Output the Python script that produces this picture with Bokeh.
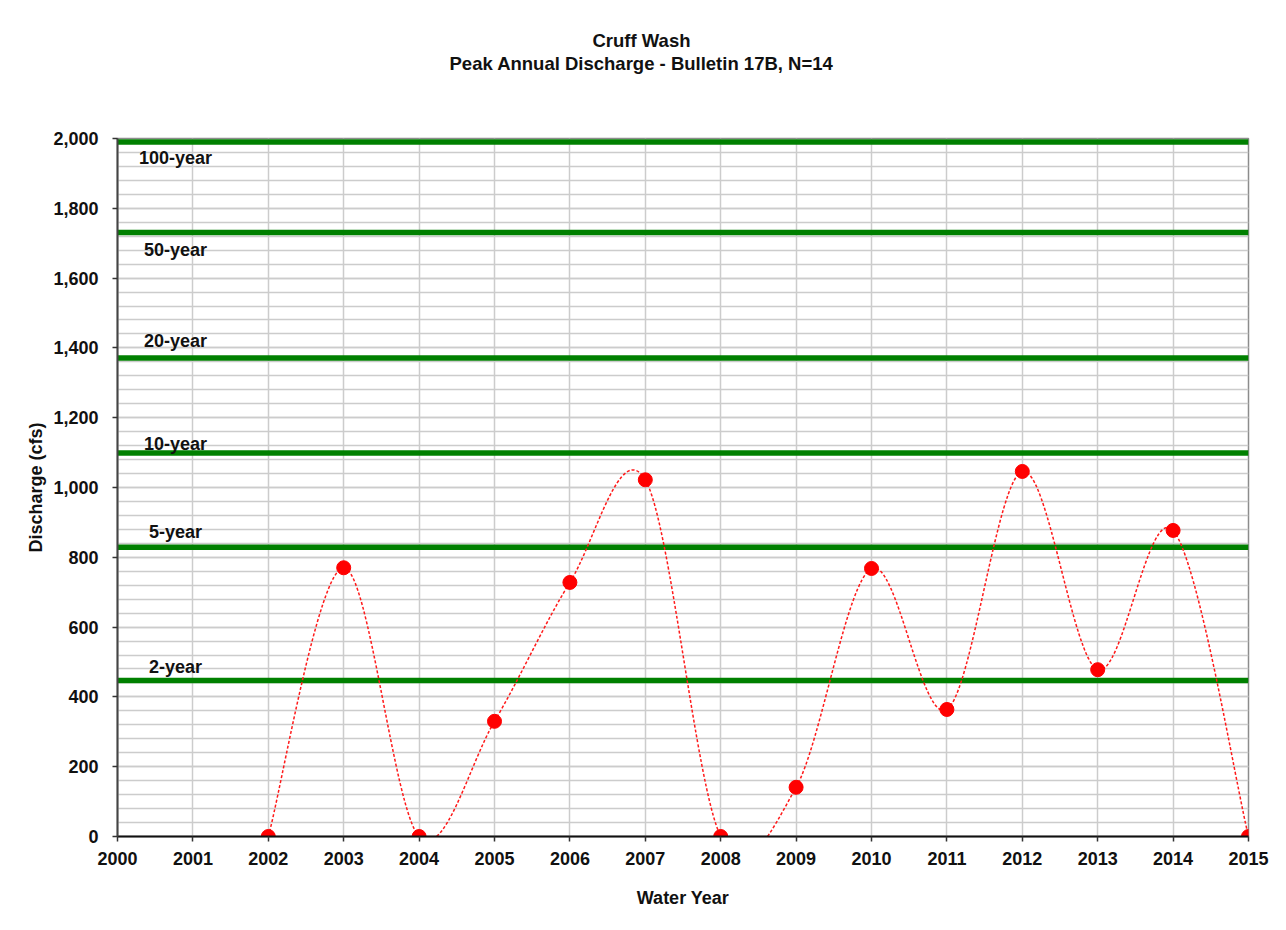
from bokeh.plotting import figure
from bokeh.models import Title, NumeralTickFormatter, SingleIntervalTicker, Range1d, FixedTicker
from bokeh.embed import file_html
from bokeh.resources import INLINE
from bokeh.core.properties import value

# ---- data ----
years = [2002, 2003, 2004, 2005, 2006, 2007, 2008, 2009, 2010, 2011, 2012, 2013, 2014, 2015]
discharge = [0, 770, 0, 330, 728, 1022, 0, 141, 768, 364, 1046, 478, 877, 0]
return_periods = ["100-year", "50-year", "20-year", "10-year", "5-year", "2-year"]
return_flows = [1990, 1731, 1371, 1099, 829, 447]
x_ticks = list(range(2000, 2016))

FONT = "Liberation Sans"

p = figure(width=1270, height=914, output_backend="svg", toolbar_location=None,
           x_range=Range1d(2000, 2015), y_range=Range1d(0, 2000),
           min_border_left=117, min_border_right=22, min_border_top=138, min_border_bottom=78,
           background_fill_color="white", border_fill_color="white")

# titles (spacer first so the two lines sit well above the frame);
# the title block is centred on the whole chart, not on the plot frame
spacer = Title(text=" ", text_font_size="1px", standoff=62, text_color="white")
t2 = Title(text="Peak Annual Discharge - Bulletin 17B, N=14", align="left", offset=332,
           text_font_size="18.5px", text_font_style="bold", text_font=FONT,
           text_color="#111111", standoff=0)
t1 = Title(text="Cruff Wash", align="left", offset=475, text_font_size="18.5px",
           text_font_style="bold", text_font=FONT, text_color="#111111", standoff=0)
p.add_layout(spacer, "above")
p.add_layout(t2, "above")
p.add_layout(t1, "above")

# axes
p.xaxis.ticker = FixedTicker(ticks=x_ticks)
p.yaxis.ticker = SingleIntervalTicker(interval=200, num_minor_ticks=5)
p.yaxis.formatter = NumeralTickFormatter(format="0,0")
for ax in (p.xaxis[0], p.yaxis[0]):
    ax.major_label_text_font = FONT
    ax.major_label_text_font_style = "bold"
    ax.major_label_text_font_size = "18px"
    ax.major_label_text_color = "#111111"
    ax.axis_label_text_font = FONT
    ax.axis_label_text_font_style = "bold"
    ax.axis_label_text_font_size = "18px"
    ax.axis_label_text_color = "#111111"
    ax.major_tick_out = 5
    ax.major_tick_in = 0
    ax.minor_tick_line_color = None
    ax.major_tick_line_color = "#333333"
    ax.major_tick_line_width = 1.5
p.xaxis.axis_label = "Water Year"
p.yaxis.axis_label = "Discharge (cfs)"
p.xaxis.axis_line_color = "#111111"
p.xaxis.axis_line_width = 2
p.yaxis.axis_line_color = "#444444"
p.yaxis.axis_line_width = 2
p.xaxis.major_label_standoff = 10
p.yaxis.major_label_standoff = 14
p.xaxis.axis_label_standoff = 20
p.yaxis.axis_label_standoff = 4

# grid
p.xgrid.ticker = FixedTicker(ticks=x_ticks)
p.xgrid.grid_line_color = "#cccccc"
p.xgrid.grid_line_width = 1.5
p.ygrid.grid_line_color = "#cccccc"
p.ygrid.grid_line_width = 1.5
p.ygrid.minor_grid_line_color = "#cccccc"
p.ygrid.minor_grid_line_width = 1.5

p.outline_line_color = "#8c8c8c"
p.outline_line_width = 1.5

# return-period lines
n_rp = len(return_flows)
p.segment(x0=[x_ticks[0]] * n_rp, x1=[x_ticks[-1]] * n_rp, y0=return_flows, y1=return_flows,
          line_color="#008000", line_width=5.5)

label_y_offsets = [-16, -18, 17, 9, 15, 13]  # screen px, up positive
p.text(x=[2000.77] * n_rp, y=return_flows, text=return_periods,
       y_offset=[-o for o in label_y_offsets],
       text_align="center", text_baseline="middle",
       text_font=value(FONT), text_font_style="bold", text_font_size="18px",
       text_color="#111111")

# smoothed curve (Catmull-Rom style bezier, like a spreadsheet smooth line)
n = len(years)
bx0, by0, bx1, by1, cx0, cy0, cx1, cy1 = [], [], [], [], [], [], [], []
for i in range(n - 1):
    i0, i1, i2, i3 = max(i - 1, 0), i, i + 1, min(i + 2, n - 1)
    bx0.append(years[i1]); by0.append(discharge[i1])
    bx1.append(years[i2]); by1.append(discharge[i2])
    cx0.append(years[i1] + (years[i2] - years[i0]) / 6.0)
    cy0.append(discharge[i1] + (discharge[i2] - discharge[i0]) / 6.0)
    cx1.append(years[i2] - (years[i3] - years[i1]) / 6.0)
    cy1.append(discharge[i2] - (discharge[i3] - discharge[i1]) / 6.0)
p.bezier(x0=bx0, y0=by0, x1=bx1, y1=by1, cx0=cx0, cy0=cy0, cx1=cx1, cy1=cy1,
         line_color="#ff1a1a", line_width=1.5, line_dash="3 2")

p.scatter(x=years, y=discharge, size=14, fill_color="#ff0000", line_color="#ff0000")

open("out.html", "w").write(file_html(p, INLINE))
